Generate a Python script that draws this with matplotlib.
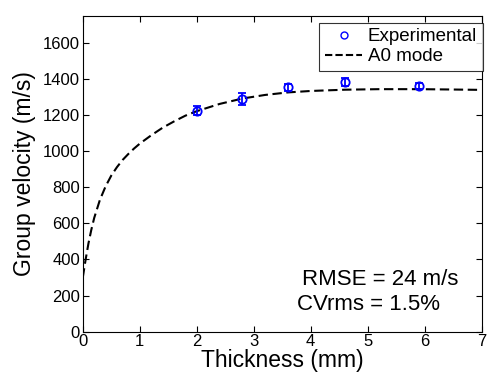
import numpy as np
import matplotlib
matplotlib.use("Agg")
import matplotlib.pyplot as plt
from matplotlib.lines import Line2D

plt.rcParams["font.family"] = ["Liberation Sans", "DejaVu Sans"]

# experimental points
thick_exp = [2.0, 2.8, 3.6, 4.6, 5.9]
vel_exp = [1225, 1290, 1355, 1382, 1362]
err_exp = [25, 35, 20, 22, 15]

# A0 mode dispersion curve
thick_a0 = [0.0, 0.05, 0.1, 0.15, 0.2, 0.3, 0.4, 0.5, 0.6, 0.7, 0.8, 0.9,
            1.0, 1.2, 1.4, 1.6, 1.8, 2.0, 2.4, 2.8, 3.2, 3.6, 4.0, 4.6,
            5.2, 5.9, 6.5, 7.0]
vel_a0 = [300, 400, 490, 565, 630, 730, 805, 865, 912, 952, 985, 1015,
          1042, 1088, 1130, 1165, 1197, 1222, 1262, 1292, 1312, 1326, 1334, 1341,
          1344, 1344, 1342, 1340]

xticks = [0, 1, 2, 3, 4, 5, 6, 7]
yticks = [0, 200, 400, 600, 800, 1000, 1200, 1400, 1600]

fig = plt.figure(figsize=(4.87, 3.79), dpi=100)
ax = fig.add_axes([0.170, 0.125, 0.819, 0.833])

ax.errorbar(thick_exp, vel_exp, yerr=err_exp, fmt="o", color="blue",
            mfc="none", mec="blue", ms=6, mew=1.3, elinewidth=1.3,
            capsize=3, capthick=1.3, zorder=3)
ax.plot(thick_a0, vel_a0, color="black", lw=1.5, dashes=(4.5, 2.2), zorder=2)

ax.set_xlim(0, 7)
ax.set_ylim(0, 1750)
ax.set_xticks(xticks)
ax.set_yticks(yticks)
ax.tick_params(direction="in", length=4, labelsize=12, top=True, right=True,
               pad=2)
ax.set_xlabel("Thickness (mm)", fontsize=16.5, labelpad=0)
ax.set_ylabel("Group velocity (m/s)", fontsize=16.5, labelpad=5)

handles = [
    Line2D([], [], ls="none", marker="o", mfc="none", mec="blue", ms=5, mew=1.0),
    Line2D([], [], color="black", lw=1.5, dashes=(3.5, 1.5)),
]
leg = ax.legend(handles, ["Experimental", "A0 mode"], loc="upper right",
                fontsize=13.5, frameon=True, fancybox=False,
                edgecolor="black", borderaxespad=0.0,
                bbox_to_anchor=(1.003, 0.979), handlelength=2.0,
                handletextpad=0.3, borderpad=0.3, labelspacing=0.15)
leg.get_frame().set_linewidth(0.8)

ax.text(3.84, 259, "RMSE = 24 m/s", fontsize=16, va="baseline", ha="left")
ax.text(3.765, 120, "CVrms = 1.5%", fontsize=16, va="baseline", ha="left")

plt.savefig("out.png", dpi=100)
